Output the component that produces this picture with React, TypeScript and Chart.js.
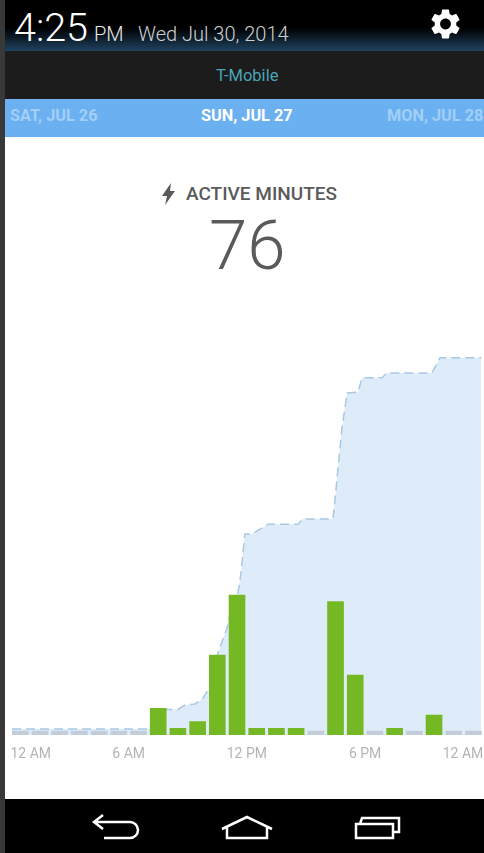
import React, { useEffect, useRef } from "react";
import { Chart, registerables } from "chart.js";

Chart.register(...registerables);

const tickLabels = ["12 AM", "6 AM", "12 PM", "6 PM", "12 AM"];
const hourlyMinutes = [0, 0, 0, 0, 0, 0, 0, 4, 1, 2, 12, 21, 1, 1, 1, 0, 20, 9, 0, 1, 0, 3, 0, 0];
const totalHours = [0.08, 7.08, 7.24, 8.5, 8.86, 9.37, 9.77, 10.13, 10.53, 10.99, 11.3, 11.55, 11.7, 11.9, 12.26, 13.07, 14.6, 14.85, 16.37, 16.47, 16.83, 17.09, 17.64, 17.85, 18.86, 19.11, 21.4, 21.8, 23.9];
const totalMinutes = [0, 0, 4, 4, 4.9, 5.1, 6.3, 8.6, 15.5, 20.6, 26.3, 27.8, 31.8, 39.8, 39.8, 41.8, 41.8, 42.9, 42.9, 46.7, 61.6, 68.6, 68.8, 71.7, 71.7, 72.7, 72.7, 75.8, 75.8];

const GEAR = "M19.14 12.94c.04-.3.06-.61.06-.94 0-.32-.02-.64-.07-.94l2.03-1.58c.18-.14.23-.41.12-.61l-1.92-3.32c-.12-.22-.37-.29-.59-.22l-2.39.96c-.5-.38-1.03-.7-1.62-.94l-.36-2.54c-.04-.24-.24-.41-.48-.41h-3.84c-.24 0-.43.17-.47.41l-.36 2.54c-.59.24-1.13.57-1.62.94l-2.39-.96c-.22-.08-.47 0-.59.22L2.74 8.87c-.12.21-.08.47.12.61l2.03 1.58c-.05.3-.09.63-.09.94s.02.64.07.94l-2.03 1.58c-.18.14-.23.41-.12.61l1.92 3.32c.12.22.37.29.59.22l2.39-.96c.5.38 1.03.7 1.62.94l.36 2.54c.05.24.24.41.48.41h3.84c.24 0 .44-.17.47-.41l.36-2.54c.59-.24 1.13-.56 1.62-.94l2.39.96c.22.08.47 0 .59-.22l1.92-3.32c.12-.22.07-.47-.12-.61l-2.01-1.58zM12 15.6c-1.98 0-3.6-1.62-3.6-3.6s1.62-3.6 3.6-3.6 3.6 1.62 3.6 3.6-1.62 3.6-3.6 3.6z";

const text = (
  content: string,
  style: React.CSSProperties
) => (
  <div style={{ position: "absolute", whiteSpace: "nowrap", fontFamily: "Roboto, sans-serif", lineHeight: 1, ...style }}>
    {content}
  </div>
);

export default function App() {
  const ref = useRef<HTMLCanvasElement>(null);

  useEffect(() => {
    const chart = new Chart(ref.current!, {
      data: {
        datasets: [
          {
            type: "bar",
            order: 1,
            data: hourlyMinutes.map((y, i) => ({ x: i + 0.5, y })),
            backgroundColor: hourlyMinutes.map((v) => (v > 0 ? "#74b924" : "#c3cdda")),
            barThickness: 16,
            minBarLength: 4,
            yAxisID: "y",
          },
          {
            type: "line",
            order: 2,
            data: totalHours.map((x, i) => ({ x, y: totalMinutes[i] })),
            borderColor: "#a9c8e4",
            borderWidth: 1.5,
            borderDash: [9, 5],
            backgroundColor: "#deecfa",
            fill: "start",
            pointRadius: 0,
            tension: 0,
            yAxisID: "y2",
          },
        ],
      } as any,
      options: {
        animation: false,
        responsive: false,
        layout: { padding: { left: 5.45, right: 0.7, top: 5, bottom: 0 } },
        plugins: { legend: { display: false }, tooltip: { enabled: false } },
        scales: {
          x: {
            type: "linear",
            min: 0,
            max: 24,
            offset: false,
            grid: { display: false, offset: false },
            border: { display: false },
            afterFit: (s: any) => {
              s.height = 35;
              s.paddingLeft = 0;
              s.paddingRight = 0;
            },
            ticks: {
              stepSize: 6,
              align: "inner",
              autoSkip: false,
              maxRotation: 0,
              padding: 3,
              color: "#b4b4b4",
              font: { family: "Roboto", size: 14 },
              callback: (v: any) => tickLabels[Number(v) / 6],
            },
          },
          y: { display: false, min: 0, max: 58.5 },
          y2: { display: false, min: -1.22, max: 78.4 },
        },
      } as any,
    });
    return () => chart.destroy();
  }, []);

  return (
    <div style={{ position: "fixed", left: 0, top: 0, width: 484, height: 853, overflow: "hidden", background: "#fff" }}>
      <div style={{ position: "absolute", left: 0, top: 0, width: 484, height: 51, background: "linear-gradient(#000 0, #000 28px, #1f4260 51px)" }} />
      <div style={{ position: "absolute", left: 0, top: 51, width: 484, height: 48, background: "#1c1c1c" }} />
      <div style={{ position: "absolute", left: 0, top: 99, width: 484, height: 38, background: "#6bb0f0" }} />
      <div style={{ position: "absolute", left: 0, top: 799, width: 484, height: 54, background: "#000" }} />
      <div style={{ position: "absolute", left: 0, top: 0, width: 5, height: 853, background: "#383838" }} />

      {text("4:25", { left: 14, top: 8, fontSize: 39.5, fontWeight: 300, color: "#fff" })}
      {text("PM", { left: 94, top: 24, fontSize: 20, fontWeight: 300, color: "#e8e8e8" })}
      {text("Wed Jul 30, 2014", { left: 138, top: 24, fontSize: 20, fontWeight: 300, color: "#cfcfcf" })}
      {text("T-Mobile", { left: 216, top: 68, fontSize: 16.5, color: "#4aa5b8" })}
      {text("SAT, JUL 26", { left: 10, top: 108, fontSize: 16.3, fontWeight: 700, color: "#a2cff8" })}
      {text("SUN, JUL 27", { left: 201, top: 108, fontSize: 16.3, fontWeight: 700, color: "#fff" })}
      {text("MON, JUL 28", { left: 387, top: 108, fontSize: 16.3, fontWeight: 700, color: "#a2cff8" })}
      {text("ACTIVE MINUTES", { left: 186, top: 184, fontSize: 19, fontWeight: 500, color: "#5a5a5a" })}
      {text("76", { left: 209, top: 211, fontSize: 69, fontWeight: 300, color: "#5a5a5a" })}

      <canvas ref={ref} width={479} height={430} style={{ position: "absolute", left: 5, top: 340, width: 479, height: 430 }} />

      <svg width={484} height={853} style={{ position: "absolute", left: 0, top: 0, pointerEvents: "none" }}>
        <path d={GEAR} fill="#fff" transform="translate(427.5,6) scale(1.5)" />
        <polygon points="171,183 162,196 167,196 165,205 175,191 170,191" fill="#5a5a5a" />
        <g fill="none" stroke="#fff" strokeWidth={2.5}>
          <path d="M103 815 L94 822 L103 829 M94 822 H130 A8 8 0 0 1 130 838 H104" />
          <path d="M222 829 L247 817 L272 829 M227 827 V838 H267 V827" />
          <path d="M356 824 H393 V838 H356 Z M360 824 L362 818 H399 V832 H393" />
        </g>
      </svg>
    </div>
  );
}
